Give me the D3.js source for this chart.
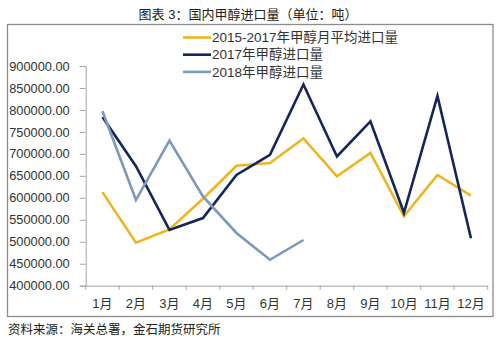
<!DOCTYPE html>
<html>
<head>
<meta charset="utf-8">
<script src="https://cdn.jsdelivr.net/npm/d3@7"></script>
<style>
  html, body { margin: 0; padding: 0; background: #fff; }
  svg { display: block; }
  text { font-family: "Liberation Sans", Arial, "Noto Sans CJK SC", sans-serif; fill: #333; }
</style>
</head>
<body>
<svg id="chart" width="500" height="338"></svg>
<script>
// Monthly methanol import volume (tonnes)
const months = ["1月","2月","3月","4月","5月","6月","7月","8月","9月","10月","11月","12月"];
const avg2015_2017 = [613000, 498000, 528000, 598000, 673000, 679000, 735000, 649000, 702000, 558000, 652000, 605000];
const vol2017 = [784000, 672000, 527000, 554000, 652000, 698000, 858000, 694000, 774000, 566000, 832000, 508000];
const vol2018 = [797000, 595000, 730000, 603000, 520000, 459000, 504000];
const yTicks = [400000, 450000, 500000, 550000, 600000, 650000, 700000, 750000, 800000, 850000, 900000];
const seriesNames = ["2015-2017年甲醇月平均进口量", "2017年甲醇进口量", "2018年甲醇进口量"];
const seriesColors = ["#EDB522", "#13265A", "#7B98BE"];

const svg = d3.select("#chart");
const plot = { left: 85.7, right: 487.7, top: 66, bottom: 285.7 };

// Title
svg.append("text")
  .attr("x", 248).attr("y", 19)
  .attr("text-anchor", "middle")
  .style("font-size", "13px")
  .style("fill", "#222")
  .text("图表 3：国内甲醇进口量（单位：吨）");

// Outer frame
svg.append("rect")
  .attr("x", 7.5).attr("y", 24.5)
  .attr("width", 485.5).attr("height", 292)
  .attr("fill", "none")
  .attr("stroke", "#8c8c8c")
  .attr("stroke-width", 1.3);

const x = d3.scaleBand().domain(months).range([plot.left, plot.right]).padding(0);
const y = d3.scaleLinear().domain([400000, 900000]).range([plot.bottom, plot.top]);

// Y axis
const yAxis = svg.append("g")
  .attr("transform", `translate(${plot.left},0)`)
  .call(d3.axisLeft(y).tickValues(yTicks).tickFormat(d3.format(".2f")).tickSize(6).tickPadding(10));
yAxis.select(".domain").attr("stroke", "#a6a6a6");
yAxis.selectAll(".tick line").attr("stroke", "#a6a6a6");
yAxis.selectAll(".tick text")
  .style("font-size", "12.8px")
  .style("fill", "#333");

// X axis with ticks at category boundaries
const xAxis = svg.append("g")
  .attr("transform", `translate(0,${plot.bottom})`)
  .call(d3.axisBottom(x).tickSize(0).tickPadding(13));
xAxis.select(".domain").attr("stroke", "#a6a6a6");
xAxis.selectAll(".tick text")
  .style("font-size", "13px")
  .style("fill", "#333");
const bounds = months.map(m => x(m)).concat([x(months[months.length - 1]) + x.bandwidth()]);
xAxis.selectAll(".bound")
  .data(bounds)
  .join("line")
  .attr("class", "bound")
  .attr("x1", d => d).attr("x2", d => d)
  .attr("y1", 0).attr("y2", 4)
  .attr("stroke", "#a6a6a6");

// Lines
const line = d3.line()
  .x((d, i) => x(months[i]) + x.bandwidth() / 2)
  .y(d => y(d));

[avg2015_2017, vol2017, vol2018].forEach((vals, k) => {
  svg.append("path")
    .datum(vals)
    .attr("fill", "none")
    .attr("stroke", seriesColors[k])
    .attr("stroke-width", 2.6)
    .attr("stroke-linejoin", "miter")
    .attr("d", line);
});

// Legend
const legend = svg.append("g").attr("transform", "translate(183,0)");
seriesNames.forEach((name, k) => {
  const ly = 37.5 + k * 17.2;
  legend.append("line")
    .attr("x1", 0).attr("x2", 28)
    .attr("y1", ly).attr("y2", ly)
    .attr("stroke", seriesColors[k])
    .attr("stroke-width", 2.6);
  legend.append("text")
    .attr("x", 29).attr("y", ly + 4.7)
    .style("font-size", "13.5px")
    .style("fill", "#333")
    .text(name);
});

// Source note
svg.append("text")
  .attr("x", 8).attr("y", 334)
  .style("font-size", "12.5px")
  .style("fill", "#222")
  .text("资料来源：海关总署，金石期货研究所");
</script>
</body>
</html>
